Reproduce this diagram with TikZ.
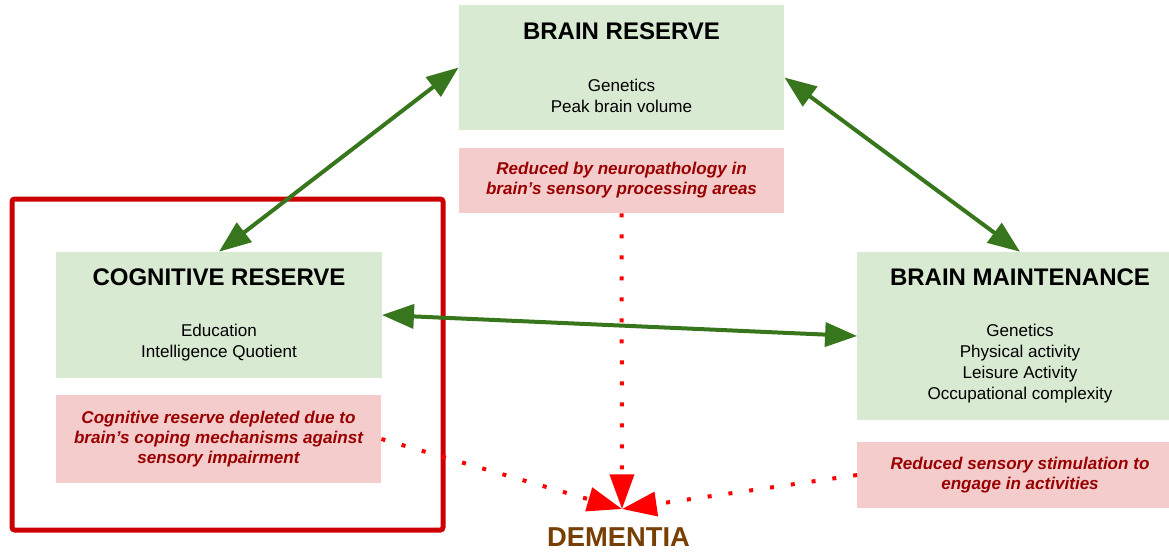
\documentclass[tikz,border=0pt]{standalone}
\usepackage{fontspec}
\setmainfont{Liberation Sans}
\usetikzlibrary{arrows.meta}
\definecolor{boxgreen}{HTML}{D9EAD3}
\definecolor{boxpink}{HTML}{F4CCCC}
\definecolor{notered}{HTML}{990000}
\definecolor{arrowgreen}{HTML}{38761D}
\definecolor{framered}{HTML}{CC0000}
\definecolor{dementiabrown}{HTML}{783F04}
\newcommand{\boxtitle}[1]{{\fontsize{18}{20}\selectfont\bfseries #1}}
\tikzset{
    green-box/.style = {fill=boxgreen, rectangle, minimum width=244pt, align=center, inner sep=0pt, font=\fontsize{12.8}{15.75}\selectfont},
    red-box/.style = {fill=boxpink, rectangle, minimum width=244pt, align=center, inner sep=0pt, text=notered, font=\fontsize{12.8}{15}\selectfont\bfseries\itshape},
    reserve-link/.style = {draw=arrowgreen, line width=3pt, {Triangle[length=24pt,width=18pt]}-{Triangle[length=24pt,width=18pt]}},
    loss-path/.style = {draw=red, line width=3pt, dash pattern=on 3pt off 12.75pt, -{Triangle[length=26pt,width=18pt]}},
}

\begin{document}
\begin{tikzpicture}[x=0.75pt,y=-0.75pt]
\clip (0,0) rectangle (1169,551);
\draw[framered, line width=3.75pt, rounded corners=2pt] (12,199) rectangle (443,530);

\node[green-box, minimum height=94pt] (brain-reserve) at (621.5,67.5) {\boxtitle{BRAIN RESERVE}\\[23pt]Genetics\\Peak brain volume};
\node[red-box, minimum height=49pt] (reserve-note) at (621.5,180.5) {Reduced by neuropathology in\\brain’s sensory processing areas};
\node[green-box, minimum height=94.5pt] (cognitive-reserve) at (219,315) {\boxtitle{COGNITIVE RESERVE}\\[23pt]Education\\Intelligence Quotient};
\node[red-box, minimum height=66pt] (cognitive-note) at (218.5,439) {Cognitive reserve depleted due to\\brain’s coping mechanisms against\\sensory impairment};
\node[green-box, minimum height=126pt] (brain-maintenance) at (1020,336) {\boxtitle{BRAIN MAINTENANCE}\\[23pt]Genetics\\Physical activity\\Leisure Activity\\Occupational complexity};
\node[red-box, minimum height=49.5pt] (maintenance-note) at (1020,475) {Reduced sensory stimulation to\\engage in activities};

\draw[reserve-link] (cognitive-reserve.north) -- (brain-reserve.west);
\draw[reserve-link] ([yshift=-7.5pt]brain-reserve.east) -- (brain-maintenance.north);
\draw[reserve-link] (cognitive-reserve.east) -- (brain-maintenance.west);

\coordinate (dementia-tip) at (622,509);
\draw[loss-path] (reserve-note.south) -- (dementia-tip);
\draw[loss-path] (cognitive-note.east) -- (dementia-tip);
\draw[loss-path] (maintenance-note.west) -- (dementia-tip);

\node[anchor=base, text=dementiabrown, font=\fontsize{20.5}{24}\selectfont\bfseries] (dementia) at (618.5,546) {DEMENTIA};
\end{tikzpicture}
\end{document}
